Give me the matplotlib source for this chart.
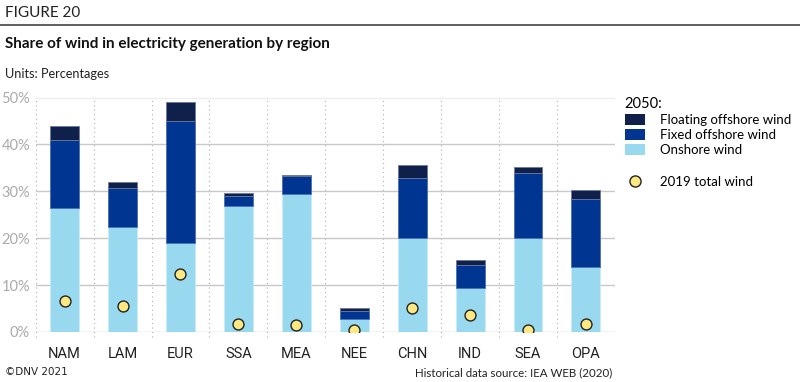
import numpy as np
import matplotlib
matplotlib.use('Agg')
import matplotlib.pyplot as plt
from matplotlib.patches import Patch
from matplotlib.lines import Line2D

plt.rcParams['font.family'] = ['Lato', 'DejaVu Sans']

# data (percent)
regions = ['NAM', 'LAM', 'EUR', 'SSA', 'MEA', 'NEE', 'CHN', 'IND', 'SEA', 'OPA']
onshore = [26.5, 22.3, 18.9, 26.9, 29.4, 2.7, 20.0, 9.3, 20.0, 13.9]
fixed = [14.5, 8.5, 26.1, 2.2, 3.9, 1.8, 12.8, 4.9, 14.0, 14.4]
floating = [3.0, 1.1, 4.1, 0.5, 0.1, 0.6, 2.9, 1.2, 1.2, 1.9]
total_2019 = [6.6, 5.5, 12.4, 1.7, 1.5, 0.35, 5.2, 3.6, 0.4, 1.8]
yticks = [0, 10, 20, 30, 40, 50]

c_float = '#0f204b'
c_fixed = '#003591'
c_on = '#99d9f0'
c_dot = '#ffe882'

fig = plt.figure(figsize=(8, 3.82), dpi=100)
ax = fig.add_axes([0.0446, 0.131, 0.724, 0.616])

x = np.arange(len(regions))
onshore = np.array(onshore)
fixed = np.array(fixed)
floating = np.array(floating)
w = 0.5
ax.bar(x, onshore, w, color=c_on, edgecolor='#c9ebf7', linewidth=0.6, zorder=3)
ax.bar(x, fixed, w, bottom=onshore, color=c_fixed, edgecolor='#4a6fb5', linewidth=0.6, zorder=3)
ax.bar(x, floating, w, bottom=onshore + fixed, color=c_float, edgecolor='#6b7a9a', linewidth=0.6, zorder=3)
ax.scatter(x, total_2019, s=62, color=c_dot, edgecolor='#222222', linewidth=1.0, zorder=4)

ax.set_xlim(-0.5, len(regions) - 0.5)
ax.set_ylim(0, 50.2)
ax.set_yticks(yticks)
ax.set_yticklabels([f'{v}%' for v in yticks])
ax.set_xticks(x)
ax.set_xticklabels(regions)
for v in yticks:
    ax.axhline(v, color='#eeeeee' if v == 50 else '#c8c8c8', linewidth=1.0, zorder=1)
for i in range(len(regions)):
    ax.axvline(i - 0.5, ymin=-0.02, ymax=1, color='#b0b0b0', linewidth=0.8,
               linestyle=(0, (1, 3)), zorder=1, clip_on=False)
for s in ax.spines.values():
    s.set_visible(False)
ax.tick_params(axis='both', length=0)
ax.tick_params(axis='y', labelsize=10.5, labelcolor='#aaaaaa', pad=4)
ax.tick_params(axis='x', labelsize=10.5, labelcolor='#222222', pad=11)
for t in ax.get_xticklabels():
    t.set_family(['Liberation Sans Narrow', 'Roboto', 'DejaVu Sans'])

# legend
h_bars = [Patch(facecolor=c_float), Patch(facecolor=c_fixed), Patch(facecolor=c_on)]
lab_bars = ['Floating offshore wind', 'Fixed offshore wind', 'Onshore wind']
leg1 = fig.legend(h_bars, lab_bars, title='2050:', loc='upper left',
                  bbox_to_anchor=(0.781, 0.745), frameon=False, fontsize=9.5,
                  title_fontsize=10.5, handlelength=1.55, handleheight=0.85,
                  handletextpad=1.1, labelspacing=0.22, borderaxespad=0,
                  borderpad=0)
leg1._legend_box.align = 'left'
h_dot = [Line2D([], [], marker='o', linestyle='none', markersize=8,
                markerfacecolor=c_dot, markeredgecolor='#222222')]
fig.legend(h_dot, ['2019 total wind'], loc='upper left',
           bbox_to_anchor=(0.781, 0.54), frameon=False, fontsize=9.5,
           handlelength=1.55, handletextpad=1.1, borderaxespad=0, borderpad=0)

# header texts
fig.text(0.006, 0.965, 'FIGURE 20', fontsize=11, color='#222222', va='center')
fig.add_artist(Line2D([0, 1], [0.935, 0.935], color='#444444', linewidth=1.2))
fig.text(0.006, 0.885, 'Share of wind in electricity generation by region',
         fontsize=11, fontweight='bold', color='#111111', va='center')
fig.text(0.006, 0.806, 'Units: Percentages', fontsize=9.2, color='#222222', va='center')
fig.text(0.006, 0.025, '©DNV 2021', fontsize=7.5, color='#222222', va='center',
         family=['Liberation Sans Narrow', 'DejaVu Sans'])
fig.text(0.765, 0.025, 'Historical data source: IEA WEB (2020)', fontsize=8.3,
         color='#222222', va='center', ha='right')

fig.savefig('out.png', dpi=100)
